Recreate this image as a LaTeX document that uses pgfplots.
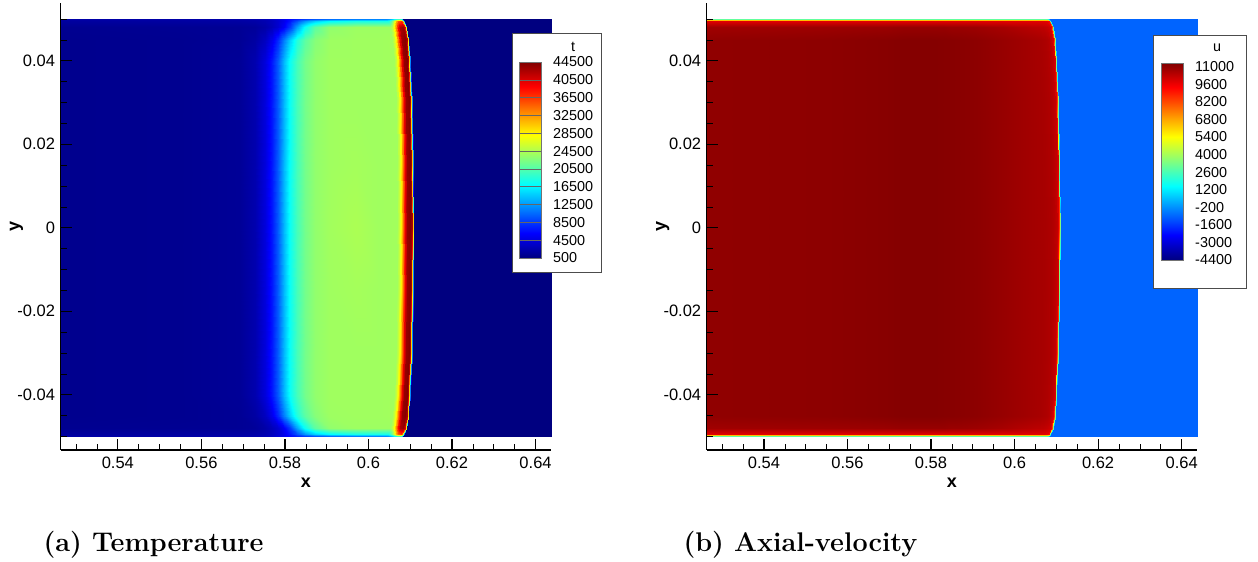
\documentclass[border=0pt]{standalone}
\usepackage{fontspec}
\usepackage{pgfplots}
\usepackage{pgfplotstable}
\pgfplotsset{compat=1.18}

\newfontfamily\arial{Liberation Sans}
\newcommand\tickfont{\arial\fontsize{16.5}{19}\selectfont}
\newcommand\cbfont{\arial\fontsize{14.4}{17}\selectfont}
\newcommand\labfont{\arial\bfseries\fontsize{18}{21}\selectfont}

% Shock-fitted mesh of the flow field: 15 rows in y, 28 nodes per row.
% Columns: x, y, temperature t, axial velocity u
\pgfplotstableread{
x y t u
0.5263 -0.05 2200 3000
0.5549 -0.05 2200 3000
0.5692 -0.05 2300 3000
0.5728 -0.05 2500 3000
0.5752 -0.05 2900 3000
0.5769 -0.05 3500 3000
0.5783 -0.05 4300 3000
0.5797 -0.05 5300 3000
0.5811 -0.05 6400 3000
0.5828 -0.05 7500 3000
0.5847 -0.05 8700 3000
0.5871 -0.05 9800 3000
0.5907 -0.05 10800 3000
0.5970 -0.05 11500 3000
0.6025 -0.05 11800 3000
0.60430 -0.05 12000 3000
0.60478 -0.05 12500 3000
0.60526 -0.05 13500 3000
0.60574 -0.05 15000 3000
0.60622 -0.05 17000 3000
0.60670 -0.05 19000 3000
0.60741 -0.05 20000 3000
0.60777 -0.05 19000 2800
0.60801 -0.05 15000 2000
0.60820 -0.05 8000 500
0.60837 -0.05 500 -900
0.6200 -0.05 500 -900
0.6437 -0.05 500 -900
0.5263 -0.0495 1800 9800
0.5549 -0.0495 1900 9800
0.5692 -0.0495 2000 9800
0.5728 -0.0495 2200 9800
0.5752 -0.0495 2600 9800
0.5769 -0.0495 3200 9800
0.5783 -0.0495 4000 9800
0.5797 -0.0495 5200 9800
0.5811 -0.0495 7000 9800
0.5828 -0.0495 9500 9800
0.5847 -0.0495 12500 9800
0.5871 -0.0495 15000 9800
0.5907 -0.0495 17000 9800
0.5970 -0.0495 18000 9800
0.6025 -0.0495 18000 9800
0.60466 -0.0495 18000 9800
0.60514 -0.0495 19500 9800
0.60562 -0.0495 22000 9800
0.60610 -0.0495 26000 9800
0.60658 -0.0495 31000 9800
0.60706 -0.0495 35000 9800
0.60777 -0.0495 37000 9700
0.60813 -0.0495 35000 9300
0.60837 -0.0495 26000 7800
0.60856 -0.0495 11000 3000
0.60873 -0.0495 500 -900
0.6200 -0.0495 500 -900
0.6437 -0.0495 500 -900
0.5263 -0.048 1200 10800
0.5549 -0.048 1300 10850
0.5692 -0.048 1400 10900
0.5728 -0.048 1600 10950
0.5752 -0.048 2200 10950
0.5769 -0.048 3000 10950
0.5783 -0.048 4000 10950
0.5797 -0.048 5800 10950
0.5811 -0.048 8500 10950
0.5828 -0.048 13000 10950
0.5847 -0.048 17500 10900
0.5871 -0.048 21000 10900
0.5907 -0.048 23300 10850
0.5970 -0.048 23800 10700
0.6025 -0.048 23800 10500
0.60526 -0.048 23800 10400
0.60574 -0.048 25000 10400
0.60622 -0.048 28000 10350
0.60670 -0.048 33000 10350
0.60718 -0.048 39000 10300
0.60766 -0.048 42500 10250
0.60837 -0.048 43500 10100
0.60873 -0.048 41000 9700
0.60897 -0.048 29000 8300
0.60916 -0.048 12000 3300
0.60933 -0.048 500 -900
0.6200 -0.048 500 -900
0.6437 -0.048 500 -900
0.5263 -0.045 1100 11050
0.5549 -0.045 1200 11100
0.5692 -0.045 1400 11180
0.5728 -0.045 2000 11220
0.5752 -0.045 3300 11230
0.5769 -0.045 5200 11230
0.5783 -0.045 7800 11230
0.5797 -0.045 11500 11230
0.5811 -0.045 15000 11220
0.5828 -0.045 18500 11200
0.5847 -0.045 21000 11180
0.5871 -0.045 22800 11150
0.5907 -0.045 23800 11100
0.5970 -0.045 23900 10950
0.6025 -0.045 23900 10800
0.60573 -0.045 24000 10700
0.60621 -0.045 25500 10680
0.60669 -0.045 28500 10650
0.60717 -0.045 34000 10620
0.60765 -0.045 40000 10580
0.60813 -0.045 43500 10500
0.60884 -0.045 44300 10300
0.60920 -0.045 42500 9900
0.60944 -0.045 30000 8500
0.60963 -0.045 12000 3500
0.60980 -0.045 500 -900
0.6200 -0.045 500 -900
0.6437 -0.045 500 -900
0.5263 -0.04 1100 11050
0.5549 -0.04 1200 11100
0.5692 -0.04 1500 11180
0.5728 -0.04 2500 11220
0.5752 -0.04 4500 11230
0.5769 -0.04 7000 11230
0.5783 -0.04 10000 11230
0.5797 -0.04 14000 11230
0.5811 -0.04 17500 11220
0.5828 -0.04 20000 11200
0.5847 -0.04 22000 11180
0.5871 -0.04 23300 11150
0.5907 -0.04 23900 11100
0.5970 -0.04 23900 10950
0.6025 -0.04 23900 10800
0.60609 -0.04 24000 10700
0.60657 -0.04 25500 10680
0.60705 -0.04 28500 10650
0.60753 -0.04 34000 10620
0.60801 -0.04 40000 10580
0.60849 -0.04 43500 10500
0.60920 -0.04 44300 10300
0.60956 -0.04 42500 9900
0.60980 -0.04 30000 8500
0.60999 -0.04 12000 3500
0.61016 -0.04 500 -900
0.6200 -0.04 500 -900
0.6437 -0.04 500 -900
0.5263 -0.03 1100 11050
0.5549 -0.03 1200 11100
0.5692 -0.03 1500 11180
0.5728 -0.03 2500 11220
0.5752 -0.03 4500 11230
0.5769 -0.03 7000 11230
0.5783 -0.03 10000 11230
0.5797 -0.03 14000 11230
0.5811 -0.03 17500 11220
0.5828 -0.03 20000 11200
0.5847 -0.03 22000 11180
0.5871 -0.03 23300 11150
0.5907 -0.03 23900 11100
0.5970 -0.03 23900 10950
0.6025 -0.03 23900 10800
0.60650 -0.03 24000 10700
0.60698 -0.03 25500 10680
0.60746 -0.03 28500 10650
0.60794 -0.03 34000 10620
0.60842 -0.03 40000 10580
0.60890 -0.03 43500 10500
0.60961 -0.03 44300 10300
0.60997 -0.03 42500 9900
0.61021 -0.03 30000 8500
0.61040 -0.03 12000 3500
0.61057 -0.03 500 -900
0.6200 -0.03 500 -900
0.6437 -0.03 500 -900
0.5263 -0.015 1100 11050
0.5549 -0.015 1200 11100
0.5692 -0.015 1500 11180
0.5728 -0.015 2500 11220
0.5752 -0.015 4500 11230
0.5769 -0.015 7000 11230
0.5783 -0.015 10000 11230
0.5797 -0.015 14000 11230
0.5811 -0.015 17500 11220
0.5828 -0.015 20000 11200
0.5847 -0.015 22000 11180
0.5871 -0.015 23300 11150
0.5907 -0.015 23900 11100
0.5970 -0.015 24100 10950
0.6025 -0.015 23900 10800
0.60681 -0.015 24000 10700
0.60729 -0.015 25500 10680
0.60777 -0.015 28500 10650
0.60825 -0.015 34000 10620
0.60873 -0.015 40000 10580
0.60921 -0.015 43500 10500
0.60992 -0.015 44300 10300
0.61028 -0.015 42500 9900
0.61052 -0.015 30000 8500
0.61071 -0.015 12000 3500
0.61088 -0.015 500 -900
0.6200 -0.015 500 -900
0.6437 -0.015 500 -900
0.5263 0 1100 11050
0.5549 0 1200 11100
0.5692 0 1500 11180
0.5728 0 2500 11220
0.5752 0 4500 11230
0.5769 0 7000 11230
0.5783 0 10000 11230
0.5797 0 14000 11230
0.5811 0 17500 11220
0.5828 0 20000 11200
0.5847 0 22000 11180
0.5871 0 23300 11150
0.5907 0 24000 11100
0.5970 0 24400 10950
0.6025 0 23900 10800
0.60693 0 24000 10700
0.60741 0 25500 10680
0.60789 0 28500 10650
0.60837 0 34000 10620
0.60885 0 40000 10580
0.60933 0 43500 10500
0.61004 0 44300 10300
0.61040 0 42500 9900
0.61064 0 30000 8500
0.61083 0 12000 3500
0.61100 0 500 -900
0.6200 0 500 -900
0.6437 0 500 -900
0.5263 0.015 1100 11050
0.5549 0.015 1200 11100
0.5692 0.015 1500 11180
0.5728 0.015 2500 11220
0.5752 0.015 4500 11230
0.5769 0.015 7000 11230
0.5783 0.015 10000 11230
0.5797 0.015 14000 11230
0.5811 0.015 17500 11220
0.5828 0.015 20000 11200
0.5847 0.015 22000 11180
0.5871 0.015 23300 11150
0.5907 0.015 23900 11100
0.5970 0.015 24100 10950
0.6025 0.015 23900 10800
0.60681 0.015 24000 10700
0.60729 0.015 25500 10680
0.60777 0.015 28500 10650
0.60825 0.015 34000 10620
0.60873 0.015 40000 10580
0.60921 0.015 43500 10500
0.60992 0.015 44300 10300
0.61028 0.015 42500 9900
0.61052 0.015 30000 8500
0.61071 0.015 12000 3500
0.61088 0.015 500 -900
0.6200 0.015 500 -900
0.6437 0.015 500 -900
0.5263 0.03 1100 11050
0.5549 0.03 1200 11100
0.5692 0.03 1500 11180
0.5728 0.03 2500 11220
0.5752 0.03 4500 11230
0.5769 0.03 7000 11230
0.5783 0.03 10000 11230
0.5797 0.03 14000 11230
0.5811 0.03 17500 11220
0.5828 0.03 20000 11200
0.5847 0.03 22000 11180
0.5871 0.03 23300 11150
0.5907 0.03 23900 11100
0.5970 0.03 23900 10950
0.6025 0.03 23900 10800
0.60650 0.03 24000 10700
0.60698 0.03 25500 10680
0.60746 0.03 28500 10650
0.60794 0.03 34000 10620
0.60842 0.03 40000 10580
0.60890 0.03 43500 10500
0.60961 0.03 44300 10300
0.60997 0.03 42500 9900
0.61021 0.03 30000 8500
0.61040 0.03 12000 3500
0.61057 0.03 500 -900
0.6200 0.03 500 -900
0.6437 0.03 500 -900
0.5263 0.04 1100 11050
0.5549 0.04 1200 11100
0.5692 0.04 1500 11180
0.5728 0.04 2500 11220
0.5752 0.04 4500 11230
0.5769 0.04 7000 11230
0.5783 0.04 10000 11230
0.5797 0.04 14000 11230
0.5811 0.04 17500 11220
0.5828 0.04 20000 11200
0.5847 0.04 22000 11180
0.5871 0.04 23300 11150
0.5907 0.04 23900 11100
0.5970 0.04 23900 10950
0.6025 0.04 23900 10800
0.60609 0.04 24000 10700
0.60657 0.04 25500 10680
0.60705 0.04 28500 10650
0.60753 0.04 34000 10620
0.60801 0.04 40000 10580
0.60849 0.04 43500 10500
0.60920 0.04 44300 10300
0.60956 0.04 42500 9900
0.60980 0.04 30000 8500
0.60999 0.04 12000 3500
0.61016 0.04 500 -900
0.6200 0.04 500 -900
0.6437 0.04 500 -900
0.5263 0.045 1100 11050
0.5549 0.045 1200 11100
0.5692 0.045 1400 11180
0.5728 0.045 2000 11220
0.5752 0.045 3300 11230
0.5769 0.045 5200 11230
0.5783 0.045 7800 11230
0.5797 0.045 11500 11230
0.5811 0.045 15000 11220
0.5828 0.045 18500 11200
0.5847 0.045 21000 11180
0.5871 0.045 22800 11150
0.5907 0.045 23800 11100
0.5970 0.045 23900 10950
0.6025 0.045 23900 10800
0.60573 0.045 24000 10700
0.60621 0.045 25500 10680
0.60669 0.045 28500 10650
0.60717 0.045 34000 10620
0.60765 0.045 40000 10580
0.60813 0.045 43500 10500
0.60884 0.045 44300 10300
0.60920 0.045 42500 9900
0.60944 0.045 30000 8500
0.60963 0.045 12000 3500
0.60980 0.045 500 -900
0.6200 0.045 500 -900
0.6437 0.045 500 -900
0.5263 0.048 1200 10800
0.5549 0.048 1300 10850
0.5692 0.048 1400 10900
0.5728 0.048 1600 10950
0.5752 0.048 2200 10950
0.5769 0.048 3000 10950
0.5783 0.048 4000 10950
0.5797 0.048 5800 10950
0.5811 0.048 8500 10950
0.5828 0.048 13000 10950
0.5847 0.048 17500 10900
0.5871 0.048 21000 10900
0.5907 0.048 23300 10850
0.5970 0.048 23800 10700
0.6025 0.048 23800 10500
0.60526 0.048 23800 10400
0.60574 0.048 25000 10400
0.60622 0.048 28000 10350
0.60670 0.048 33000 10350
0.60718 0.048 39000 10300
0.60766 0.048 42500 10250
0.60837 0.048 43500 10100
0.60873 0.048 41000 9700
0.60897 0.048 29000 8300
0.60916 0.048 12000 3300
0.60933 0.048 500 -900
0.6200 0.048 500 -900
0.6437 0.048 500 -900
0.5263 0.0495 1800 9800
0.5549 0.0495 1900 9800
0.5692 0.0495 2000 9800
0.5728 0.0495 2200 9800
0.5752 0.0495 2600 9800
0.5769 0.0495 3200 9800
0.5783 0.0495 4000 9800
0.5797 0.0495 5200 9800
0.5811 0.0495 7000 9800
0.5828 0.0495 9500 9800
0.5847 0.0495 12500 9800
0.5871 0.0495 15000 9800
0.5907 0.0495 17000 9800
0.5970 0.0495 18000 9800
0.6025 0.0495 18000 9800
0.60466 0.0495 18000 9800
0.60514 0.0495 19500 9800
0.60562 0.0495 22000 9800
0.60610 0.0495 26000 9800
0.60658 0.0495 31000 9800
0.60706 0.0495 35000 9800
0.60777 0.0495 37000 9700
0.60813 0.0495 35000 9300
0.60837 0.0495 26000 7800
0.60856 0.0495 11000 3000
0.60873 0.0495 500 -900
0.6200 0.0495 500 -900
0.6437 0.0495 500 -900
0.5263 0.05 2200 3000
0.5549 0.05 2200 3000
0.5692 0.05 2300 3000
0.5728 0.05 2500 3000
0.5752 0.05 2900 3000
0.5769 0.05 3500 3000
0.5783 0.05 4300 3000
0.5797 0.05 5300 3000
0.5811 0.05 6400 3000
0.5828 0.05 7500 3000
0.5847 0.05 8700 3000
0.5871 0.05 9800 3000
0.5907 0.05 10800 3000
0.5970 0.05 11500 3000
0.6025 0.05 11800 3000
0.60430 0.05 12000 3000
0.60478 0.05 12500 3000
0.60526 0.05 13500 3000
0.60574 0.05 15000 3000
0.60622 0.05 17000 3000
0.60670 0.05 19000 3000
0.60741 0.05 20000 3000
0.60777 0.05 19000 2800
0.60801 0.05 15000 2000
0.60820 0.05 8000 500
0.60837 0.05 500 -900
0.6200 0.05 500 -900
0.6437 0.05 500 -900
}\flowfield

% colour scales: one row per legend level
\pgfplotstableread{
x y v
0 500 500
1 500 500
0 4500 4500
1 4500 4500
0 8500 8500
1 8500 8500
0 12500 12500
1 12500 12500
0 16500 16500
1 16500 16500
0 20500 20500
1 20500 20500
0 24500 24500
1 24500 24500
0 28500 28500
1 28500 28500
0 32500 32500
1 32500 32500
0 36500 36500
1 36500 36500
0 40500 40500
1 40500 40500
0 44500 44500
1 44500 44500
}\tscale

\pgfplotstableread{
x y v
0 -4400 -4400
1 -4400 -4400
0 -3000 -3000
1 -3000 -3000
0 -1600 -1600
1 -1600 -1600
0 -200 -200
1 -200 -200
0 1200 1200
1 1200 1200
0 2600 2600
1 2600 2600
0 4000 4000
1 4000 4000
0 5400 5400
1 5400 5400
0 6800 6800
1 6800 6800
0 8200 8200
1 8200 8200
0 9600 9600
1 9600 9600
0 11000 11000
1 11000 11000
0 11300 11300
1 11300 11300
}\uscale

\pgfplotsset{
  flowpanel/.style={
    scale only axis, width=490.4pt, height=446.7pt,
    xmin=0.5263, xmax=0.6437, ymin=-0.05325, ymax=0.05375,
    axis x line*=bottom, axis y line*=left,
    axis on top, clip=false,
    tick align=inside,
    xtick={0.54,0.56,0.58,0.6,0.62,0.64},
    ytick={-0.04,-0.02,0,0.02,0.04},
    minor xtick={0.53,0.535,0.545,0.55,0.555,0.565,0.57,0.575,0.585,0.59,0.595,0.605,0.61,0.615,0.625,0.63,0.635},
    minor ytick={-0.05,-0.045,-0.035,-0.03,-0.025,-0.015,-0.01,-0.005,0.005,0.01,0.015,0.025,0.03,0.035,0.045,0.05},
    major tick length=11pt, minor tick length=6pt,
    major tick style={black, line width=1.2pt},
    minor tick style={black, line width=0.6pt},
    axis line style={black, line width=1.3pt},
    scaled ticks=false,
    /pgf/number format/assume math mode=true,
    xticklabel style={font=\tickfont, yshift=-3.5pt, /pgf/number format/fixed, /pgf/number format/precision=2},
    yticklabel style={font=\tickfont, xshift=-2pt, /pgf/number format/fixed, /pgf/number format/precision=2},
    xlabel={x}, ylabel={y},
    xlabel style={at={(axis description cs:0.5,-0.074)}, anchor=center, font=\labfont},
    ylabel style={at={(axis description cs:-0.0897,0.5)}, anchor=center, font=\labfont},
    colormap/jet,
  },
  barpanel/.style={
    anchor=south west,
    scale only axis, width=22pt,
    xmin=0, xmax=1,
    axis on top,
    xtick=\empty,
    major tick length=0pt,
    axis line style={black!55, line width=0.6pt},
    scaled y ticks=false,
    colormap/jet,
    /pgf/number format/assume math mode=true,
    yticklabel pos=right,
    yticklabel style={font=\cbfont, anchor=west, inner sep=0pt, xshift=12pt,
      /pgf/number format/fixed, /pgf/number format/1000 sep={}},
  },
}

\begin{document}
\begin{tikzpicture}
\useasboundingbox (0,0) rectangle (1258pt,562pt);

% temperature field
\begin{axis}[flowpanel, at={(60.6pt,112pt)}, anchor=south west,
  point meta min=500, point meta max=44500]
\addplot[surf, shader=interp, mesh/rows=15, mesh/cols=28, point meta=explicit]
  table[x=x, y=y, meta=t] {\flowfield};
\end{axis}

% axial velocity field
\begin{axis}[flowpanel, at={(706.7pt,112pt)}, anchor=south west,
  point meta min=-4400, point meta max=11300]
\addplot[surf, shader=interp, mesh/rows=15, mesh/cols=28, point meta=explicit]
  table[x=x, y=y, meta=u] {\flowfield};
\end{axis}

% legend frames
\draw[black!70, line width=0.8pt, fill=white] (512pt,290pt) rectangle (601pt,529pt);
\node[font=\cbfont] at (573pt,515pt) {t};
\draw[black!70, line width=0.8pt, fill=white] (1153pt,274pt) rectangle (1246pt,527pt);
\node[font=\cbfont] at (1217pt,514pt) {u};

% temperature scale
\begin{axis}[barpanel, at={(519pt,304pt)}, height=196pt,
  ymin=500, ymax=44500, point meta min=500, point meta max=44500,
  ytick={500,4500,...,44500},
  ymajorgrids, major grid style={black!60, line width=0.6pt}]
\addplot[surf, shader=interp, mesh/rows=12, mesh/cols=2, point meta=explicit]
  table[x=x, y=y, meta=v] {\tscale};
\end{axis}

% velocity scale
\begin{axis}[barpanel, at={(1161pt,302pt)}, height=197pt,
  ymin=-4400, ymax=11300, point meta min=-4400, point meta max=11300,
  ytick={-4400,-3000,...,11000}]
\addplot[surf, shader=interp, mesh/rows=13, mesh/cols=2, point meta=explicit]
  table[x=x, y=y, meta=v] {\uscale};
\end{axis}

\node[anchor=base west, font=\bfseries\fontsize{27}{32}\selectfont] at (40pt,10pt) {(a) Temperature};
\node[anchor=base west, font=\bfseries\fontsize{27}{32}\selectfont] at (680pt,10pt) {(b) Axial-velocity};
\end{tikzpicture}
\end{document}
